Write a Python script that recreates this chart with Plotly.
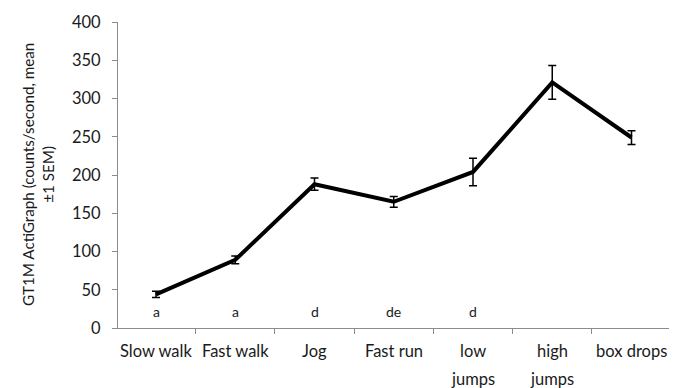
import plotly.graph_objects as go

# Activity categories and GT1M ActiGraph counts (counts/second)
activities = ["Slow walk", "Fast walk", "Jog", "Fast run", "low jumps", "high jumps", "box drops"]
label_lines = [["Slow walk"], ["Fast walk"], ["Jog"], ["Fast run"],
               ["low", "jumps"], ["high", "jumps"], ["box drops"]]
mean_counts = [44, 89, 188, 165, 204, 321, 249]
sem_counts = [4, 5, 8, 7, 18, 22, 9]

# Significance letters shown beneath the first five activities
sig_letters = ["a", "a", "d", "de", "d", "", ""]
letter_y = 21

FONT = "Lato, sans-serif"
TEXT = "#1a1a1a"
AXIS = "#8c8c8c"
PLOT_W = 684 - 118 - 15

fig = go.Figure()
fig.add_trace(go.Scatter(
    x=activities,
    y=mean_counts,
    mode="lines",
    line=dict(color="black", width=4),
    error_y=dict(type="data", array=sem_counts, visible=True,
                 color="black", thickness=1.5, width=4),
    showlegend=False,
))

for cat, letter in zip(activities, sig_letters):
    if letter:
        fig.add_annotation(x=cat, y=letter_y, text=letter, showarrow=False,
                           font=dict(family=FONT, size=14, color=TEXT))

# Category labels, one annotation per text line for wider line spacing
for cat, lines in zip(activities, label_lines):
    for i, line in enumerate(lines):
        fig.add_annotation(x=cat, xref="x", y=0, yref="paper", yanchor="middle",
                           yshift=-23 - 28 * i, text=line, showarrow=False,
                           font=dict(family=FONT, size=16.5, color=TEXT))

# Y-axis title
fig.add_annotation(x=-80 / PLOT_W, xref="paper", xanchor="center",
                   y=0.5, yref="paper", yanchor="middle",
                   text="GT1M ActiGraph (counts/second, mean<br>±1 SEM)",
                   textangle=-90, showarrow=False,
                   font=dict(family=FONT, size=15.2, color=TEXT))

fig.update_layout(
    width=684, height=388,
    margin=dict(l=118, r=15, t=18, b=60),
    paper_bgcolor="white", plot_bgcolor="white",
    font=dict(family=FONT, size=16, color=TEXT),
)
fig.update_xaxes(
    type="category",
    showticklabels=False,
    tickson="boundaries", ticks="outside", ticklen=5, tickcolor=AXIS,
    showline=True, linecolor=AXIS, linewidth=1,
    showgrid=False, zeroline=False,
)
fig.update_yaxes(
    range=[0, 400], dtick=50,
    ticks="outside", ticklen=5, tickcolor=AXIS, ticklabelstandoff=8,
    showline=True, linecolor=AXIS, linewidth=1,
    showgrid=False, zeroline=False,
    tickfont=dict(family=FONT, size=16.5, color=TEXT),
)

fig.write_html("out.html")
